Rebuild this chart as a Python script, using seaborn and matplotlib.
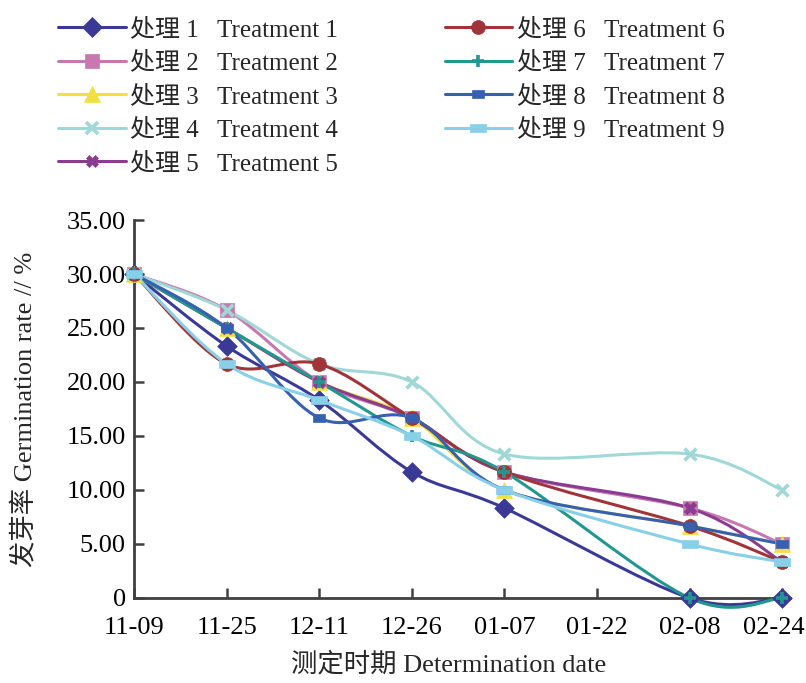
import matplotlib
matplotlib.use('Agg')
import matplotlib.pyplot as plt
import matplotlib.transforms as mtransforms
import seaborn as sns
import numpy as np
from matplotlib.path import Path
from matplotlib.patches import PathPatch
from matplotlib.lines import Line2D

# 测定时期 (01-22 has no measurement)
dates = ['11-09', '11-25', '12-11', '12-26', '01-07', '01-22', '02-08', '02-24']
sample_dates = ['11-09', '11-25', '12-11', '12-26', '01-07', '02-08', '02-24']

# germination rate (%)
t1 = [30.00, 23.33, 18.33, 11.67, 8.33, 0.00, 0.00]
t2 = [30.00, 26.67, 20.00, 16.67, 11.67, 8.33, 5.00]
t3 = [30.00, 25.00, 20.00, 16.67, 10.00, 6.67, 5.00]
t4 = [30.00, 26.67, 21.67, 20.00, 13.33, 13.33, 10.00]
t5 = [30.00, 25.00, 20.00, 16.67, 11.67, 8.33, 3.33]
t6 = [30.00, 21.67, 21.67, 16.67, 11.67, 6.67, 3.33]
t7 = [30.00, 25.00, 20.00, 15.00, 11.67, 0.00, 0.00]
t8 = [30.00, 25.00, 16.67, 16.67, 10.00, 6.67, 5.00]
t9 = [30.00, 21.67, 18.33, 15.00, 10.00, 5.00, 3.33]

labels = ['处理 %d   Treatment %d' % (i, i) for i in range(1, 10)]
series = [t1, t2, t3, t4, t5, t6, t7, t8, t9]
colors = ['#3A3A96', '#C878B0', '#F0E040', '#A0D8D8', '#8C3C90',
          '#A03438', '#209890', '#3860B0', '#88D0E8']

rect8 = Path([(-1, -0.8), (1, -0.8), (1, 0.8), (-1, 0.8), (-1, -0.8)],
             [Path.MOVETO, Path.LINETO, Path.LINETO, Path.LINETO, Path.CLOSEPOLY])
rect9 = Path([(-1, -0.53), (1, -0.53), (1, 0.53), (-1, 0.53), (-1, -0.53)],
             [Path.MOVETO, Path.LINETO, Path.LINETO, Path.LINETO, Path.CLOSEPOLY])
markers = ['D', 's', '^', 'x', 'X', 'o', '+', rect8, rect9]
msizes = [10, 10, 11.5, 8.5, 9, 10, 8, 8, 12]

sns.set_style('ticks')
plt.rcParams['font.family'] = ['Liberation Serif', 'Noto Sans CJK SC']
plt.rcParams['axes.unicode_minus'] = False

fig = plt.figure(figsize=(8.06, 6.83), dpi=100)
ax = fig.add_axes([134 / 806, 85 / 683, 655.6 / 806, 378 / 683])

xpos = np.array([dates.index(d) for d in sample_dates], dtype=float)


def smooth_path(xs, ys):
    # Excel-style smoothed line: cubic Bezier through every point
    pts = np.column_stack([xs, ys])
    n = len(pts)
    verts = [pts[0]]
    codes = [Path.MOVETO]
    for i in range(n - 1):
        p0 = pts[max(i - 1, 0)]
        p1 = pts[i]
        p2 = pts[i + 1]
        p3 = pts[min(i + 2, n - 1)]
        c1 = p1 + (p2 - p0) / 6.0
        c2 = p2 - (p3 - p1) / 6.0
        verts += [c1, c2, p2]
        codes += [Path.CURVE4] * 3
    return Path(verts, codes)


handles = []
for k, (ys, c, m, ms) in enumerate(zip(series, colors, markers, msizes)):
    patch = PathPatch(smooth_path(xpos, ys), facecolor='none', edgecolor=c,
                      lw=2.2, zorder=2 + k * 0.1, clip_on=False)
    ax.add_patch(patch)
    filled = m not in ('x', '+')
    sns.scatterplot(x=xpos, y=ys, ax=ax, marker=m, s=ms ** 2, color=c,
                    edgecolor=c, linewidth=0.5 if filled else 2.6,
                    zorder=3 + k * 0.1, clip_on=False, legend=False)
    handles.append(Line2D([], [], color=c, lw=2.2, marker=m, markersize=ms,
                          markeredgecolor=c,
                          markeredgewidth=0.5 if filled else 2.6))

ax.set_xlim(0, 7.08)
ax.set_ylim(0, 35)
ax.set_xticks(range(len(dates)))
ax.set_xticklabels(dates)
yt = np.arange(0, 36, 5)
ax.set_yticks(yt)
ax.set_yticklabels(['0'] + ['%.2f' % v for v in yt[1:]])

sns.despine(ax=ax)
for s in ['left', 'bottom']:
    ax.spines[s].set_color('#404040')
    ax.spines[s].set_linewidth(2)
ax.tick_params(direction='in', length=7, width=1.8, color='#404040',
               labelsize=19, labelcolor='black')
ax.tick_params(axis='x', pad=14)
ax.tick_params(axis='y', pad=6)

# last date label sits a little inside the figure edge
last = ax.get_xticklabels()[-1]
last.set_transform(last.get_transform() +
                   mtransforms.ScaledTranslation(-8 / 100, 0, fig.dpi_scale_trans))

ax.set_xlabel('测定时期 Determination date', fontsize=19)
ax.set_ylabel('发芽率 Germination rate // %', fontsize=19, labelpad=21)
ax.xaxis.set_label_coords(0.48, -0.143)

fig.legend(handles, labels, ncol=2, loc='upper left',
           bbox_to_anchor=(58 / 806, 1 - 18 / 683), frameon=False,
           fontsize=18, handlelength=2.7, handletextpad=0.2,
           columnspacing=4.25, labelspacing=0.43, borderpad=0, borderaxespad=0)

fig.savefig('out.png', dpi=100)
